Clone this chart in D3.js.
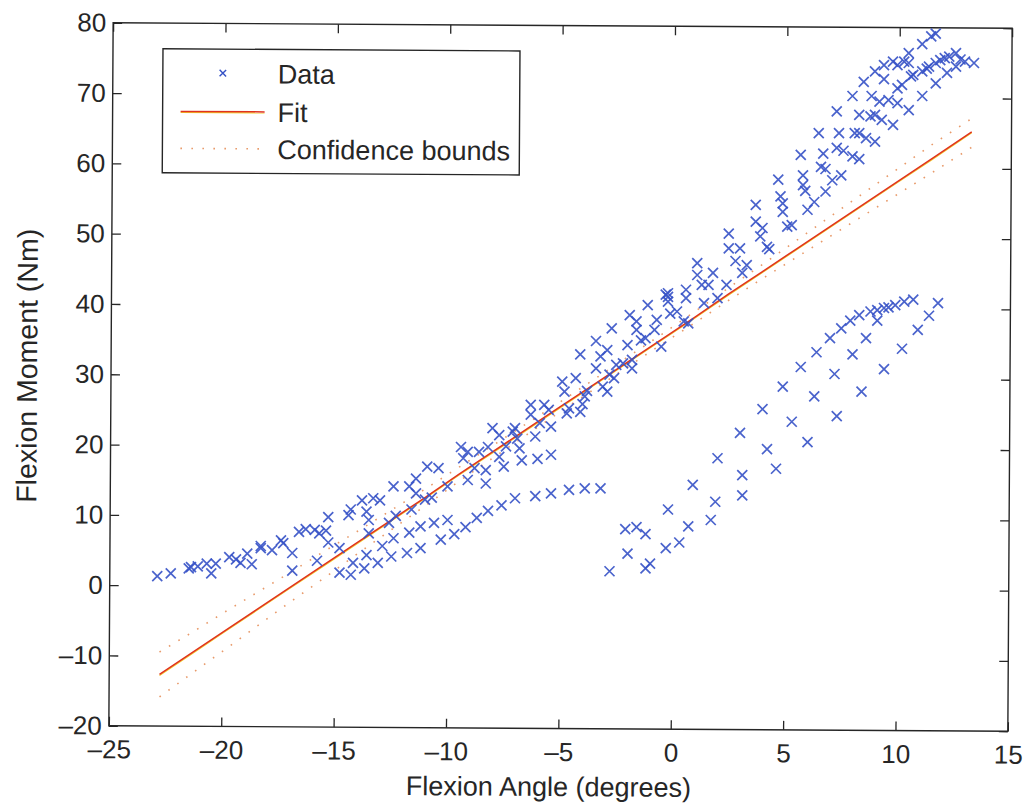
<!DOCTYPE html>
<html><head><meta charset="utf-8">
<script src="https://cdn.jsdelivr.net/npm/d3@7"></script>
<style>body{margin:0;background:#fff}svg{display:block}</style>
</head><body>
<svg id="c" width="1033" height="807"></svg>
<script>
// ---- data ----
const angle = [-22.9,-22.3,-21.5,-21.4,-21.1,-20.7,-20.5,-20.3,-19.7,-19.4,-19.2,-18.9,-18.7,-18.3,-18.3,-17.8,-17.4,-17.3,-16.9,-16.9,
-16.6,-16.3,-15.9,-15.8,-15.7,-15.4,-15.3,-15.3,-14.8,-14.8,-14.3,-14.4,-14.3,-14.2,-13.8,-13.7,-13.6,-13.6,-13.5,-13.5,
-13.3,-13.0,-13.1,-12.9,-12.6,-12.5,-12.4,-12.3,-12.4,-11.7,-11.7,-11.8,-11.6,-11.4,-11.4,-11.2,-11.2,-11.0,-10.7,-10.9,
-10.6,-10.4,-10.3,-10.0,-10.0,-9.7,-9.2,-8.7,-8.2,-7.6,
-9.4,-9.3,-9.1,-9.1,-8.8,-8.6,-8.3,-8.2,-8.3,-8.0,-7.7,-7.7,-7.5,-7.4,-7.1,-7.0,-6.9,-6.8,-6.7,-6.3,
-6.3,-6.1,-6.0,-5.9,-5.7,-5.5,-5.4,-5.4,-4.9,-4.8,-4.7,-4.6,-4.3,-4.1,-4.0,-4.1,-3.9,-3.8,-3.4,-3.4,
-3.2,-3.1,-2.9,-2.9,-2.7,-2.8,-2.6,-2.5,-2.0,-1.9,-1.8,-1.8,-1.6,-1.6,-1.4,-1.2,-1.1,-0.8,-0.7,-0.5,
-0.3,-0.1,0.2,0.5,0.6,0.6,0.7,1.1,1.1,-7.0,-6.1,-5.4,-4.6,-3.9,-3.2,-2.2,
2.8,3.3,3.1,1.8,2.4,1.3,1.6,2.0,1.4,-0.2,-0.2,-0.2,
-2.8,-2.0,-2.1,-1.6,-1.2,-1.2,-1.0,-0.3,-0.2,0.3,0.7,0.9,1.7,1.9,2.0,3.1,3.1,3.0,4.0,4.2,
4.6,4.9,5.3,5.7,6.0,6.3,6.4,7.0,7.2,7.3,7.5,7.9,8.0,8.3,8.4,8.6,8.8,9.1,9.1,9.4,
9.6,9.4,9.9,10.2,10.3,10.7,10.9,11.4,11.8,
11.7,11.5,11.1,10.5,10.3,10.0,9.8,9.4,10.5,9.0,8.5,9.4,8.0,8.85,10.0,10.2,10.6,10.7,11.1,11.3,
11.4,11.7,11.9,12.1,12.3,12.6,12.8,13.0,13.4,11.1,11.7,12.2,12.6,9.6,9.2,10.0,10.5,9.8,7.3,8.3,
8.8,9.0,9.3,6.5,7.4,8.1,8.3,8.6,9.0,5.7,6.7,7.3,7.6,8.0,8.3,6.6,6.8,4.7,5.8,5.8,
5.9,7.5,7.1,6.8,6.3,6.0,4.8,4.9,4.9,3.7,3.7,4.0,3.9,5.1,5.3,4.2,4.3,2.5,2.5,3.0];
const moment = [1.2,1.6,2.3,2.5,2.6,3.0,1.6,3.0,3.9,3.6,3.1,4.4,2.9,5.2,5.5,4.9,6.3,5.9,4.5,2.0,
7.5,7.9,7.8,3.4,7.3,7.7,9.6,6.0,5.2,1.7,1.4,9.9,10.7,3.1,12.0,2.3,10.4,4.2,9.2,7.3,
12.3,12.0,3.1,5.5,8.8,4.0,14.0,9.8,6.6,14.0,7.4,4.5,10.7,13.0,15.1,8.3,5.2,12.1,12.4,16.8,
8.8,16.6,6.4,14.0,9.2,7.2,8.2,9.5,10.5,11.3,
19.6,18.0,18.9,14.9,16.6,18.9,16.3,19.6,14.4,22.3,18.2,21.3,16.8,19.7,21.8,22.3,20.8,19.4,17.7,25.6,
24.2,21.1,17.9,23.0,25.6,24.9,22.5,18.5,28.9,27.5,24.4,25.1,29.4,24.6,25.7,32.8,26.8,27.6,34.7,30.8,
32.5,28.2,33.4,27.5,36.5,29.9,29.4,31.3,34.1,38.4,32.0,30.8,36.3,37.5,34.8,35.1,39.8,36.3,37.7,33.9,
41.3,38.6,38.9,37.5,42.0,40.8,37.2,45.8,44.1,12.3,12.6,13.0,13.5,13.7,13.7,31.5,
46.1,45.5,44.4,44.4,42.7,42.7,42.7,40.8,40.1,41.5,41.0,40.3,
1.9,4.4,7.9,8.2,7.2,2.3,3.0,5.2,10.7,6.0,8.3,14.2,9.2,11.8,18.0,15.6,12.7,21.6,25.0,19.3,
16.5,28.2,23.2,31.0,20.3,26.8,33.1,35.1,30.0,24.0,36.5,37.6,32.8,38.4,27.5,35.1,38.9,37.6,39.1,39.4,
39.5,30.7,39.8,33.6,40.3,40.6,36.3,38.3,40.1,
78.5,78.1,77.0,75.7,74.5,74.0,74.5,74.0,74.3,73.1,71.6,72.0,69.6,69.6,70.7,71.2,72.4,72.6,73.1,73.5,
73.8,74.3,74.7,75.0,75.2,75.7,74.8,74.5,74.3,69.6,71.4,72.9,73.8,69.0,68.8,68.6,67.6,65.5,67.4,66.9,
66.7,66.9,66.2,64.3,64.3,64.3,64.3,63.6,63.1,61.2,61.4,62.2,61.8,61.0,60.6,59.5,59.2,57.7,58.3,56.9,
56.1,58.3,57.6,56.0,54.5,53.4,55.3,54.3,53.1,54.1,51.7,50.8,49.6,51.0,51.2,48.1,47.8,50.0,47.9,47.9];

const fitAngle  = [-22.8,-21.3,-20,-18.5,-17,-15.5,-14,-12.5,-11,-9.5,-8,-6.5,-5,-3.5,-2,-0.5,1,2.5,4,5.5,7,8.5,10,11.5,13.3];
const fitMoment = [-12.8,-9.6,-6.8,-3.6,-0.4,2.8,6.0,9.2,12.4,15.7,18.9,22.1,25.3,28.5,31.7,34.9,38.1,41.4,44.6,47.8,51.0,54.2,57.4,60.6,64.5];
const upperBound = [-9.6,-6.7,-4.1,-1.2,1.7,4.7,7.6,10.6,13.6,16.7,19.8,22.9,26.0,29.2,32.4,35.6,38.9,42.3,45.6,49.0,52.4,55.8,59.2,62.6,66.4];
const lowerBound = [-16.0,-12.5,-9.5,-6.0,-2.5,0.9,4.4,7.8,11.2,14.7,18.0,21.3,24.6,27.8,31.0,34.2,37.3,40.5,43.6,46.6,49.6,52.6,55.6,58.6,62.3];

const xTicks = [-25,-20,-15,-10,-5,0,5,10,15];
const yTicks = [-20,-10,0,10,20,30,40,50,60,70,80];
const xLabel = "Flexion Angle (degrees)";
const yLabel = "Flexion Moment (Nm)";
const legendLabels = ["Data","Fit","Confidence bounds"];

// ---- drawing ----
const FONT = "'Liberation Sans', Arial, Helvetica, sans-serif";
const INK = "#262626";
const BLUE = "#3652c6";
const RED = "#e0321e";
const YEL = "#f2cc2a";
const DOT = "#e89a6a";

// frame (the printed page is turned slightly, so the frame is rotated)
const L = 111, R = 1010, T = 25.5, B = 728.5;
const x = d3.scaleLinear().domain([-25, 15]).range([L, R]);
const y = d3.scaleLinear().domain([-20, 80]).range([B, T]);
// the marks as they sit on the page
const xp = d3.scaleLinear().domain([-25, 15]).range([110, 1010]);
const yp = d3.scaleLinear().domain([-20, 80]).range([725, 23]);

const svg = d3.select("#c");
svg.append("rect").attr("width",1033).attr("height",807).attr("fill","#fff");
const g = svg.append("g").attr("transform","rotate(0.35,560,376)");

const fmt = d => d < 0 ? "\u2013" + Math.abs(d) : String(d);

// axes (MATLAB style: ticks inside, mirrored)
const ax = g.append("g").attr("transform",`translate(0,${B})`)
  .call(d3.axisBottom(x).tickValues(xTicks).tickSizeInner(-9).tickSizeOuter(0).tickPadding(14).tickFormat(fmt));
const axT = g.append("g").attr("transform",`translate(0,${T})`)
  .call(d3.axisTop(x).tickValues(xTicks).tickSizeInner(-9).tickSizeOuter(0).tickFormat(""));
const ay = g.append("g").attr("transform",`translate(${L},0)`)
  .call(d3.axisLeft(y).tickValues(yTicks).tickSizeInner(-9).tickSizeOuter(0).tickPadding(7).tickFormat(fmt));
const ayR = g.append("g").attr("transform",`translate(${R},0)`)
  .call(d3.axisRight(y).tickValues(yTicks).tickSizeInner(-9).tickSizeOuter(0).tickFormat(""));
[ax,axT,ay,ayR].forEach(a => {
  a.select(".domain").remove();
  a.selectAll("line").attr("stroke",INK).attr("stroke-width",1.3);
  a.selectAll("text").attr("fill",INK).style("font-family",FONT).style("font-size","26px");
});
g.append("rect").attr("x",L).attr("y",T).attr("width",R-L).attr("height",B-T)
  .attr("fill","none").attr("stroke",INK).attr("stroke-width",1.4);

// axis labels
g.append("text").attr("x",551).attr("y",796).attr("text-anchor","middle")
  .attr("fill",INK).style("font-family",FONT).style("font-size","27px").text(xLabel);
g.append("text").attr("transform","translate(37,369) rotate(-90)").attr("text-anchor","middle")
  .attr("fill",INK).style("font-family",FONT).style("font-size","28.5px").text(yLabel);

// marks
const pg = svg.append("g");
const line = (ys) => d3.line().x((d,i)=>xp(fitAngle[i])).y((d,i)=>yp(ys[i]))(fitAngle);
[upperBound, lowerBound].forEach(b => {
  pg.append("path").attr("d", line(b)).attr("fill","none").attr("stroke",DOT)
    .attr("stroke-width",1.6).attr("stroke-dasharray","1.6,9.4");
});
pg.append("path").attr("d", line(fitMoment)).attr("transform","translate(0,1)")
  .attr("fill","none").attr("stroke",YEL).attr("stroke-width",1.1);
pg.append("path").attr("d", line(fitMoment))
  .attr("fill","none").attr("stroke",RED).attr("stroke-width",1.5);

const cross = "M-5,-5L5,5M-5,5L5,-5";
pg.append("g").selectAll("path").data(angle).join("path")
  .attr("transform",(d,i)=>`translate(${xp(d)},${yp(moment[i])})`)
  .attr("d",cross).attr("fill","none").attr("stroke",BLUE).attr("stroke-width",1.7)
  .attr("stroke-opacity",0.9);

// legend
const lg = g.append("g").attr("transform","translate(-2,2.2)");
lg.append("rect").attr("x",163).attr("y",49).attr("width",357).attr("height",124)
  .attr("fill","#fff").attr("stroke",INK).attr("stroke-width",1.4);
const rowY = [73, 111.5, 148.5];
lg.append("path").attr("transform",`translate(223,${rowY[0]}) scale(0.65)`).attr("d",cross)
  .attr("fill","none").attr("stroke",BLUE).attr("stroke-width",2.2);
lg.append("line").attr("x1",181).attr("x2",265).attr("y1",rowY[1]+1).attr("y2",rowY[1]+1)
  .attr("stroke",YEL).attr("stroke-width",1.1);
lg.append("line").attr("x1",181).attr("x2",265).attr("y1",rowY[1]).attr("y2",rowY[1])
  .attr("stroke",RED).attr("stroke-width",1.5);
lg.append("line").attr("x1",181).attr("x2",265).attr("y1",rowY[2]).attr("y2",rowY[2])
  .attr("stroke",DOT).attr("stroke-width",1.6).attr("stroke-dasharray","1.6,9.4");
lg.selectAll("text.lab").data(legendLabels).join("text").attr("class","lab")
  .attr("x",278).attr("y",(d,i)=>rowY[i]+10)
  .attr("fill",INK).style("font-family",FONT).style("font-size","27px").text(d=>d);
</script>
</body></html>
